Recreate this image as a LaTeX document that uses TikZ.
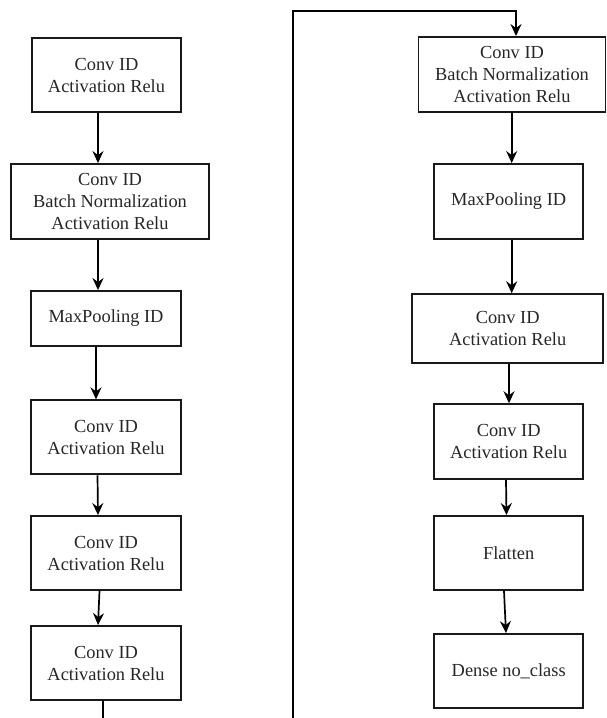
\documentclass[tikz,border=0pt]{standalone}
\usepackage{fontspec}
\setmainfont{Liberation Serif}
\usetikzlibrary{arrows.meta}
\begin{document}
\begin{tikzpicture}[x=1pt,y=-1pt,
  layer/.style={draw=black!90, line width=1.9pt, inner sep=0pt, align=center,
    font=\fontsize{18.4}{22}\selectfont, text=black!85},
  arr/.style={line width=1.7pt, -{Stealth[length=12pt,width=11pt,inset=4pt]}},
  wire/.style={line width=1.7pt}]
\useasboundingbox (0,0) rectangle (607,718);
% left column
\node[layer, minimum width=149pt, minimum height=74pt] (L1) at (106.5,75) {Conv ID\\Activation Relu};
\node[layer, minimum width=198pt, minimum height=75pt] (L2) at (110,201.5) {Conv ID\\Batch Normalization\\Activation Relu};
\node[layer, minimum width=150pt, minimum height=55pt] (L3) at (106,318.5) {MaxPooling ID};
\node[layer, minimum width=150pt, minimum height=74pt] (L4) at (106,437.3) {Conv ID\\Activation Relu};
\node[layer, minimum width=150pt, minimum height=74pt] (L5) at (106,553) {Conv ID\\Activation Relu};
\node[layer, minimum width=150pt, minimum height=74pt] (L6) at (106,663) {Conv ID\\Activation Relu};
% right column
\node[layer, minimum width=187pt, minimum height=75pt] (R1) at (512,74.5) {Conv ID\\Batch Normalization\\Activation Relu};
\node[layer, minimum width=149pt, minimum height=75pt] (R2) at (508.7,201.5) {MaxPooling ID};
\node[layer, minimum width=191pt, minimum height=69pt] (R3) at (507.7,328.7) {Conv ID\\Activation Relu};
\node[layer, minimum width=149pt, minimum height=75pt] (R4) at (508.7,441.7) {Conv ID\\Activation Relu};
\node[layer, minimum width=149pt, minimum height=74pt] (R5) at (508.7,553) {Flatten};
\node[layer, minimum width=149pt, minimum height=74pt] (R6) at (508.7,671) {Dense no\_class};
% left arrows
\draw[arr] (L1.south -| 98,0) -- (L2.north -| 98,0);
\draw[arr] (L2.south -| 98,0) -- (L3.north -| 98,0);
\draw[arr] (L3.south -| 96,0) -- (L4.north -| 96,0);
\draw[arr] (L4.south -| 97.5,0) -- (L5.north -| 98,0);
\draw[arr] (L5.south -| 99.5,0) -- (L6.north -| 98,0);
% link between columns
\coordinate (b1) at (103,718);
\coordinate (b2) at (293.3,718);
\coordinate (t1) at (293.3,10.7);
\draw[wire] (L6.south -| b1) -- (b1);
\draw[arr] (b2) -- (t1) -| (R1.north -| 516,0);
% right arrows
\draw[arr] (R1.south -| 511.7,0) -- (R2.north -| 511.7,0);
\draw[arr] (R2.south -| 511.7,0) -- (R3.north -| 511.7,0);
\draw[arr] (R3.south -| 509,0) -- (R4.north -| 509,0);
\draw[arr] (R4.south -| 506,0) -- (R5.north -| 506.5,0);
\draw[arr] (R5.south -| 504,0) -- (R6.north -| 506,0);
\end{tikzpicture}
\end{document}
